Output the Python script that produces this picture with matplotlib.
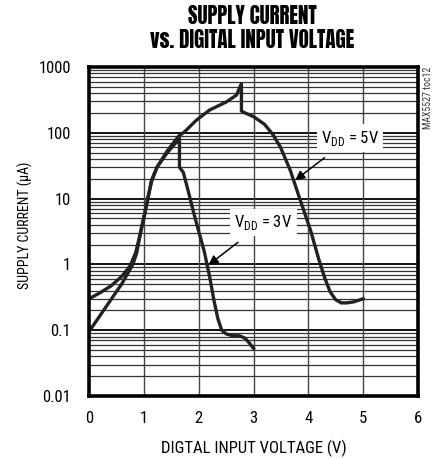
import matplotlib
matplotlib.use("Agg")
import matplotlib.pyplot as plt
import numpy as np

BODY = ['Roboto Condensed', 'Liberation Sans', 'DejaVu Sans']
TITLE = ['Anton', 'Roboto Condensed', 'Liberation Sans', 'DejaVu Sans']
plt.rcParams['font.family'] = BODY

# VDD = 5V curve
v5_x = [0.0, 0.2, 0.4, 0.6, 0.75, 0.85, 0.92, 1.0, 1.07, 1.14, 1.24, 1.42, 1.63, 1.75, 1.96, 2.2, 2.51, 2.69, 2.78,
        2.78, 2.82, 3.0, 3.2, 3.35, 3.49, 3.67, 3.85, 4.04, 4.19, 4.3, 4.4, 4.5, 4.6, 4.7, 4.83, 5.0]
v5_y = [0.30, 0.37, 0.47, 0.66, 0.95, 1.5, 2.6, 5.0, 10.0, 18, 30, 52, 88, 105, 156, 222, 296, 375, 560,
        215, 205, 176, 135, 95, 61, 27, 9.6, 3.3, 1.2, 0.62, 0.38, 0.29, 0.26, 0.26, 0.27, 0.30]

# VDD = 3V curve
v3_x = [0.0, 0.3, 0.6, 0.8, 0.87, 0.96, 1.07, 1.14, 1.24, 1.42, 1.65,
        1.65, 1.72, 1.8, 1.9, 2.0, 2.1, 2.2, 2.28, 2.35, 2.42, 2.5, 2.6, 2.75, 2.85, 2.93, 3.0]
v3_y = [0.095, 0.22, 0.51, 1.0, 1.5, 3.7, 9.6, 19, 30, 49, 82,
        30, 25, 14, 6.5, 3.2, 1.6, 0.65, 0.28, 0.15, 0.10, 0.088, 0.083, 0.082, 0.075, 0.063, 0.053]

x_ticks = [0, 1, 2, 3, 4, 5, 6]
y_ticks = [0.01, 0.1, 1, 10, 100, 1000]
y_tick_labels = ["0.01", "0.1", "1", "10", "100", "1000"]

fig = plt.figure(figsize=(4.38, 4.59), dpi=100)
ax = fig.add_axes([89/438, 1-396/459, (418-89)/438, (396-67)/459])
ax.set_yscale('log')
ax.set_xlim(0, 6)
ax.set_ylim(0.01, 1000)

# grid
for d in range(-2, 3):
    base = 10.0**d
    for m in range(2, 10):
        ax.axhline(base*m, color='#333333', lw=0.9, zorder=1)
for d in range(-2, 4):
    ax.axhline(10.0**d, color='black', lw=1.3, zorder=1)
for xv in x_ticks[1:-1]:
    ax.axvline(xv, color='#444444', lw=1.0, zorder=1)

ax.plot(v5_x, v5_y, color='#222222', lw=2.4, zorder=3, solid_joinstyle='round')
ax.plot(v3_x, v3_y, color='#222222', lw=2.4, zorder=3, solid_joinstyle='round')

ax.set_xticks(x_ticks)
ax.set_xticklabels([str(t) for t in x_ticks])
ax.set_yticks(y_ticks)
ax.set_yticklabels(y_tick_labels)
ax.yaxis.set_minor_locator(matplotlib.ticker.NullLocator())
ax.tick_params(axis='y', length=0, labelsize=12, pad=13)
ax.tick_params(axis='x', length=0, labelsize=12, pad=11)
for s in ax.spines.values():
    s.set_linewidth(2.6)
    s.set_zorder(5)

ax.set_xlabel("DIGTAL INPUT VOLTAGE (V)", fontsize=12, labelpad=10)
ax.set_ylabel("SUPPLY CURRENT (\u03bcA)", fontsize=10)
ax.yaxis.set_label_coords((33-89)/329, (396-225)/329)

bbox = dict(boxstyle='square,pad=0.25', fc='white', ec='none')
ax.annotate("V$_{\\mathregular{DD}}$ = 5V", xy=(3.76, 19), xytext=(4.76, 83),
            fontsize=12, ha='center', va='center', bbox=bbox, zorder=6,
            arrowprops=dict(arrowstyle='-|>', color='black', lw=1.1, mutation_scale=14,
                            shrinkA=7, shrinkB=0))
ax.annotate("V$_{\\mathregular{DD}}$ = 3V", xy=(2.18, 0.98), xytext=(3.18, 4.3),
            fontsize=12, ha='center', va='center', bbox=bbox, zorder=6,
            arrowprops=dict(arrowstyle='-|>', color='black', lw=1.1, mutation_scale=14,
                            shrinkA=7, shrinkB=0))

fig.text(252/438, 1-16/459, "SUPPLY CURRENT", ha='center', va='center',
         fontsize=15, family=TITLE)
fig.text(252/438, 1-40/459, "vs. DIGITAL INPUT VOLTAGE", ha='center', va='center',
         fontsize=15, family=TITLE)
fig.text(428/438, 1-67/459, "MAX5527 toc12", ha='center', va='top', rotation=90,
         fontsize=7, color='#333333')

fig.savefig("out.png", dpi=100)
